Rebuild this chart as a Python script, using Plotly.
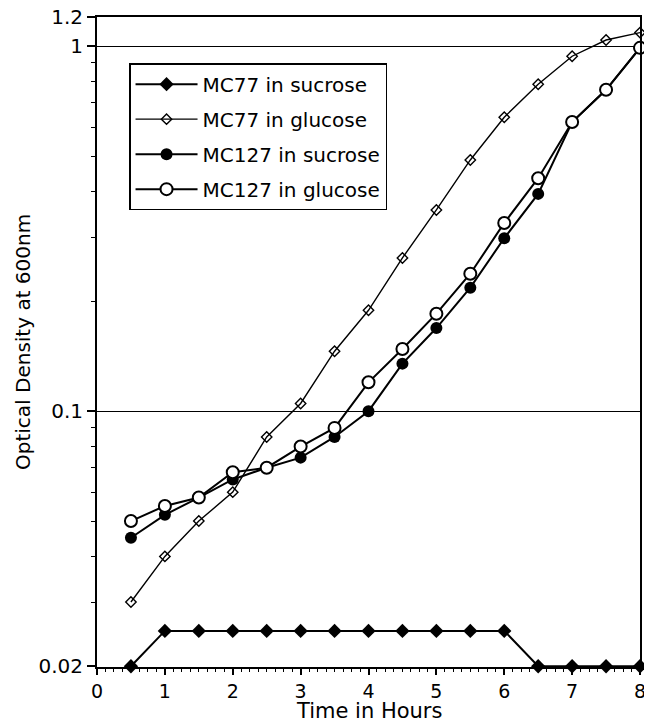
import math
import plotly.graph_objects as go

hours = [0.5, 1, 1.5, 2, 2.5, 3, 3.5, 4, 4.5, 5, 5.5, 6, 6.5, 7, 7.5, 8]

mc77_sucrose = [0.020, 0.025, 0.025, 0.025, 0.025, 0.025, 0.025, 0.025,
                0.025, 0.025, 0.025, 0.025, 0.020, 0.020, 0.020, 0.020]
mc77_glucose = [0.030, 0.040, 0.050, 0.060, 0.085, 0.105, 0.146, 0.189,
                0.263, 0.356, 0.488, 0.639, 0.787, 0.939, 1.04, 1.09]
mc127_sucrose = [0.045, 0.052, 0.058, 0.065, 0.070, 0.0746, 0.085, 0.100,
                 0.135, 0.169, 0.218, 0.298, 0.394, 0.62, 0.76, 0.99]
mc127_glucose = [0.050, 0.055, 0.058, 0.068, 0.070, 0.080, 0.090, 0.120,
                 0.148, 0.185, 0.238, 0.328, 0.435, 0.62, 0.76, 0.99]

y_ticks = [0.02, 0.1, 1, 1.2]
y_tick_labels = ["0.02", "0.1", "1", "1.2"]
y_minor = [0.03, 0.04, 0.05, 0.06, 0.07, 0.08, 0.09,
           0.2, 0.3, 0.4, 0.5, 0.6, 0.7, 0.8, 0.9]

x_title = "Time in Hours"
y_title = "Optical Density at 600nm"

fig = go.Figure()
fig.add_trace(go.Scatter(
    x=hours, y=mc77_sucrose, name="MC77 in sucrose", mode="lines+markers",
    legendgroup="a",
    line=dict(color="black", width=2),
    marker=dict(symbol="diamond", size=11, color="black"), cliponaxis=False))
fig.add_trace(go.Scatter(
    x=hours, y=mc77_glucose, name="MC77 in glucose", mode="lines+markers",
    legendgroup="b",
    line=dict(color="black", width=1.4),
    marker=dict(symbol="diamond-open", size=8, color="black", line=dict(width=1.4)),
    cliponaxis=False))
fig.add_trace(go.Scatter(
    x=hours, y=mc127_sucrose, name="MC127 in sucrose", mode="lines+markers",
    legendgroup="c",
    line=dict(color="black", width=2),
    marker=dict(symbol="circle", size=12, color="black"), cliponaxis=False))
fig.add_trace(go.Scatter(
    x=hours, y=mc127_glucose, name="MC127 in glucose", mode="lines+markers",
    legendgroup="d",
    line=dict(color="black", width=2),
    marker=dict(symbol="circle", size=12, color="white", line=dict(color="black", width=2)),
    cliponaxis=False))

font = "DejaVu Sans, sans-serif"
fig.update_layout(
    width=644, height=715,
    margin=dict(l=89, r=12, t=9, b=56),
    paper_bgcolor="white", plot_bgcolor="white",
    font=dict(family=font, color="black"),
    showlegend=True,
    legend=dict(x=0.059, y=0.929, xanchor="left", yanchor="top",
                bgcolor="white", bordercolor="black", borderwidth=1.5,
                font=dict(size=20, family=font), itemwidth=62,
                tracegroupgap=6),
    annotations=[
        dict(text=x_title, xref="paper", yref="paper", x=0.5, y=0,
             xanchor="center", yanchor="middle", yshift=-44, showarrow=False,
             font=dict(size=21, family=font)),
        dict(text=y_title, xref="paper", yref="paper", x=0, y=0.5,
             xanchor="center", yanchor="middle", xshift=-74, textangle=-90,
             showarrow=False, font=dict(size=20, family=font)),
    ],
)
fig.update_xaxes(
    range=[0, 8], dtick=1, tick0=0, showgrid=False, zeroline=False,
    automargin=False,
    showline=True, linecolor="black", linewidth=2, mirror=True,
    ticks="outside", ticklen=6, tickwidth=1.5, tickcolor="black",
    minor=dict(dtick=0.125, ticks="outside", ticklen=3, tickcolor="black", tickwidth=1),
    tickfont=dict(size=19, family=font),
)
fig.update_yaxes(
    type="log", range=[math.log10(0.02) - 0.002, math.log10(1.2) + 0.001],
    tickvals=y_ticks, ticktext=y_tick_labels, ticklabeloverflow="allow",
    automargin=False,
    showgrid=True, gridcolor="black", gridwidth=1.3, zeroline=False,
    showline=True, linecolor="black", linewidth=2, mirror=True,
    ticks="outside", ticklen=8, tickwidth=1.5, tickcolor="black",
    minor=dict(tickvals=y_minor, ticks="outside", ticklen=4, tickcolor="black",
               tickwidth=1, showgrid=False),
    tickfont=dict(size=20, family=font),
)

fig.write_html("out.html")
